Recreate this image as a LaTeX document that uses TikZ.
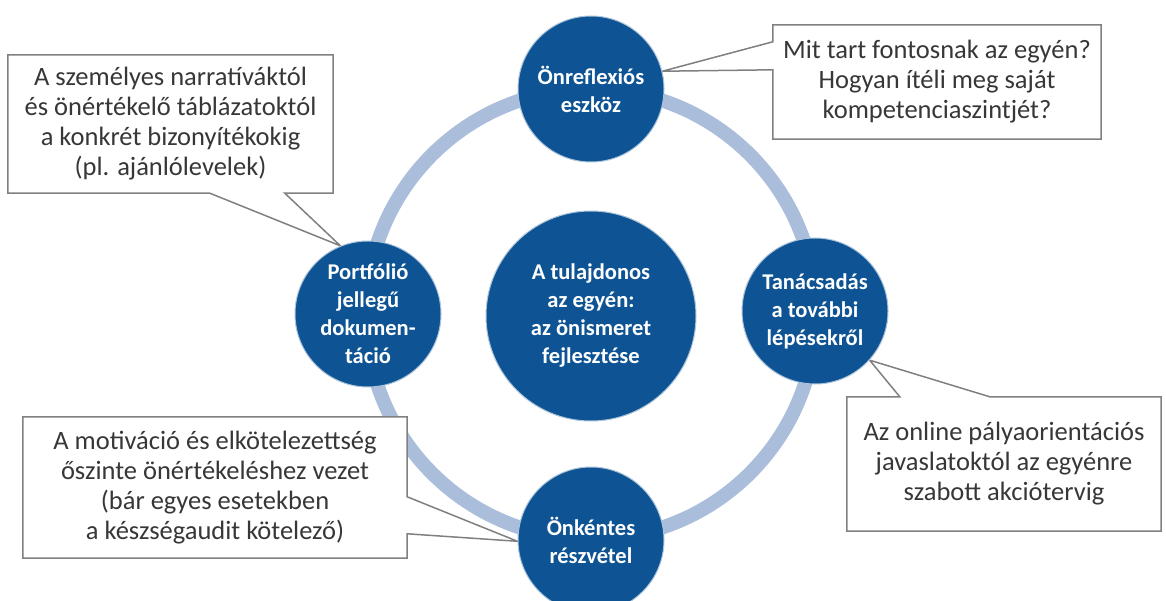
\documentclass[tikz,border=0pt]{standalone}
\usepackage{fontspec}
\setmainfont{Carlito}
\usetikzlibrary{calc,backgrounds}
\definecolor{dblue}{RGB}{14,84,148}
\definecolor{ringcol}{RGB}{170,189,219}
\definecolor{boxgray}{RGB}{128,128,128}
\definecolor{txtgray}{RGB}{55,55,55}
\begin{document}
\begin{tikzpicture}[x=1pt,y=-1pt,
  bubble/.style={circle,fill=dblue,draw=dblue!35!white,line width=1pt,text=white,
    font=\fontsize{22.5}{28}\selectfont\bfseries,align=center,inner sep=0pt,minimum size=146pt},
  note/.style={inner sep=0pt,align=center,text=txtgray,font=\fontsize{26.5}{30}\selectfont},
  callout/.style={draw=boxgray,fill=white,line width=1.5pt,line join=miter},
  ringstyle/.style={draw=ringcol,line width=14pt}]
\useasboundingbox (0,0) rectangle (1166,601);
\coordinate (ringc) at (591,314);
% circles
\node[bubble] (tc) at (591,89) {Önreflexiós\\eszköz};
\node[bubble] (lc) at (368,314) {Portfólió\\jellegű\\dokumen-\\táció};
\node[bubble] (rc) at (815,311) {Tanácsadás\\a további\\lépésekről};
\node[bubble] (bc) at (591,540) {Önkéntes\\részvétel};
\node[bubble,minimum size=210pt] (mid) at (591,316) {A tulajdonos\\az egyén:\\az önismeret\\fejlesztése};
% callout texts
\node[note,minimum width=325pt,minimum height=138pt] (c1) at (170.5,124)
  {A személyes narratíváktól\\és önértékelő táblázatoktól\\a konkrét bizonyítékokig\\(pl. ajánlólevelek)};
\node[note,minimum width=328pt,minimum height=114pt] (c2) at (937,82)
  {Mit tart fontosnak az egyén?\\Hogyan ítéli meg saját\\kompetenciaszintjét?};
\node[note,minimum width=314pt,minimum height=134pt] (c3) at (1004,464)
  {Az online pályaorientációs\\javaslatoktól az egyénre\\szabott akciótervig};
\node[note,minimum width=384pt,minimum height=141pt] (c4) at (215,487.5)
  {A motiváció és elkötelezettség\\őszinte önértékeléshez vezet\\(bár egyes esetekben\\a készségaudit kötelező)};
\begin{pgfonlayer}{background}
  \draw[ringstyle] (ringc) circle[radius=225pt];
  \draw[callout] (c1.north west) -- (c1.north east) -- (c1.south east)
    -- ($(c1.south west)+(277,0)$) -- (lc.112) -- ($(c1.south west)+(202,0)$)
    -- (c1.south west) -- cycle;
  \draw[callout] (c2.north west) -- (c2.north east) -- (c2.south east)
    -- (c2.south west) -- ($(c2.north west)+(0,45)$) -- (tc.14)
    -- ($(c2.north west)+(0,17)$) -- cycle;
  \draw[callout] (c3.north west) -- ($(c3.north west)+(53,0)$) -- (rc.-42)
    -- ($(c3.north west)+(143,0)$) -- (c3.north east) -- (c3.south east)
    -- (c3.south west) -- cycle;
  \draw[callout] (c4.north west) -- (c4.north east) -- ($(c4.north east)+(0,80)$)
    -- (bc.181) -- ($(c4.north east)+(0,117)$) -- (c4.south east)
    -- (c4.south west) -- cycle;
\end{pgfonlayer}
\end{tikzpicture}
\end{document}
